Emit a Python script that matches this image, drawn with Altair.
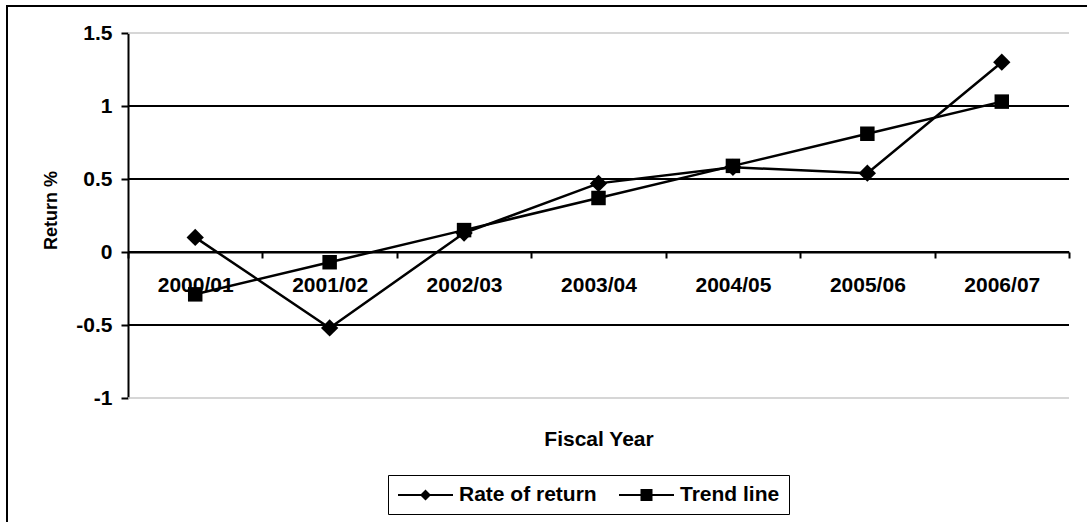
import altair as alt
import pandas as pd

# ---- data -------------------------------------------------------------
years = ["2000/01", "2001/02", "2002/03", "2003/04", "2004/05", "2005/06", "2006/07"]
rate_of_return = [0.10, -0.52, 0.13, 0.47, 0.58, 0.54, 1.30]
trend_line = [-0.29, -0.07, 0.15, 0.37, 0.59, 0.81, 1.03]
series_names = ["Rate of return", "Trend line"]
y_ticks = [-1, -0.5, 0, 0.5, 1, 1.5]
dark_grid = [-0.5, 0, 0.5, 1]
light_grid = [-1, 1.5]

rows = []
for name, vals in zip(series_names, [rate_of_return, trend_line]):
    for yr, v in zip(years, vals):
        rows.append({"year": yr, "series": name, "value": v})
df = pd.DataFrame(rows)

FONT = "Liberation Sans"
W, H = 941, 365

x_enc = alt.X(
    "year:N",
    sort=years,
    bandPosition=0.5,
    scale=alt.Scale(type="band", domain=years, paddingInner=0, paddingOuter=0),
    axis=alt.Axis(
        title="Fiscal Year",
        offset=-146,
        tickBand="extent",
        domainColor="black",
        domainWidth=2,
        tickColor="black",
        tickWidth=2,
        tickSize=6,
        labelAngle=0,
        labelFont=FONT,
        labelFontSize=21,
        labelFontWeight="bold",
        labelColor="black",
        labelPadding=16,
        titleFont=FONT,
        titleFontSize=21,
        titleFontWeight="bold",
        titleColor="black",
        titleBaseline="alphabetic",
        titleY=193,
        grid=False,
    ),
)

y_scale = alt.Scale(domain=[-1, 1.5], nice=False, zero=False)
y_enc = alt.Y(
    "value:Q",
    scale=y_scale,
    axis=alt.Axis(
        title="Return %",
        values=y_ticks,
        labelExpr="'' + datum.value",
        grid=False,
        domainColor="black",
        domainWidth=2,
        tickColor="black",
        tickWidth=2,
        tickSize=7,
        labelFont=FONT,
        labelFontSize=21,
        labelFontWeight="bold",
        labelColor="black",
        labelPadding=9,
        titleFont=FONT,
        titleFontSize=18,
        titleFontWeight="bold",
        titleColor="black",
        titleAngle=270,
        titleAlign="center",
        titleBaseline="alphabetic",
        titleX=-72,
        titleY=177,
    ),
)

# outer chart frame
frame = alt.Chart(pd.DataFrame({"k": [0]})).mark_rect(
    fillOpacity=0, stroke="black", strokeWidth=2
).encode(
    x=alt.value(-121), x2=alt.value(1100), y=alt.value(-27), y2=alt.value(700)
)

# horizontal gridlines
grid_dark = alt.Chart(pd.DataFrame({"value": dark_grid})).mark_rule(
    color="black", strokeWidth=2
).encode(y=alt.Y("value:Q", scale=y_scale))
grid_light = alt.Chart(pd.DataFrame({"value": light_grid})).mark_rule(
    color="#c8c8c8", strokeWidth=1.5
).encode(y=alt.Y("value:Q", scale=y_scale))

lines = alt.Chart(df).mark_line(color="black", strokeWidth=2.5).encode(
    x=x_enc, y=y_enc, detail="series:N", order=alt.Order("year:N")
)

points = alt.Chart(df).mark_point(filled=True, color="black", opacity=1).encode(
    x=x_enc,
    y=y_enc,
    shape=alt.Shape(
        "series:N",
        scale=alt.Scale(domain=series_names, range=["diamond", "square"]),
        legend=None,
    ),
    size=alt.Size(
        "series:N",
        scale=alt.Scale(domain=series_names, range=[300, 210]),
        legend=None,
    ),
)

# legend entries: a filled line segment with the series marker on it
# (unit = sqrt(symbolSize)/2 = 10px; the segment runs 55px to the right)
diamond_path = (
    "M-1,-0.11H4.5V0.11H-1Z"
    "M1.75,-0.55L2.3,0L1.75,0.55L1.2,0Z"
)
square_path = (
    "M-1,-0.11H4.5V0.11H-1Z"
    "M1.15,-0.6H2.35V0.6H1.15Z"
)
legend_layer = alt.Chart(df).transform_filter("false").mark_point(
    filled=True, color="black", opacity=1
).encode(
    shape=alt.Shape(
        "series:N",
        scale=alt.Scale(domain=series_names, range=[diamond_path, square_path]),
        legend=alt.Legend(
            title=None,
            orient="none",
            legendX=260,
            legendY=442,
            direction="horizontal",
            labelFont=FONT,
            labelFontSize=21,
            labelFontWeight="bold",
            labelColor="black",
            labelOffset=40,
            symbolSize=400,
            symbolFillColor="black",
            symbolOpacity=1,
            strokeColor="black",
            fillColor="white",
            padding=9,
            columnPadding=19,
        ),
    )
)

chart = (
    alt.layer(frame, grid_light, grid_dark, lines, points, legend_layer)
    .resolve_scale(shape="independent", size="independent")
    .properties(
        width=W,
        height=H,
        autosize=alt.AutoSizeParams(type="none"),
        padding={"left": 128, "top": 33, "right": 18, "bottom": 124},
        background="white",
    )
    .configure_view(stroke=None)
)

chart.save("out.html", embed_options={"renderer": "svg", "actions": False})
